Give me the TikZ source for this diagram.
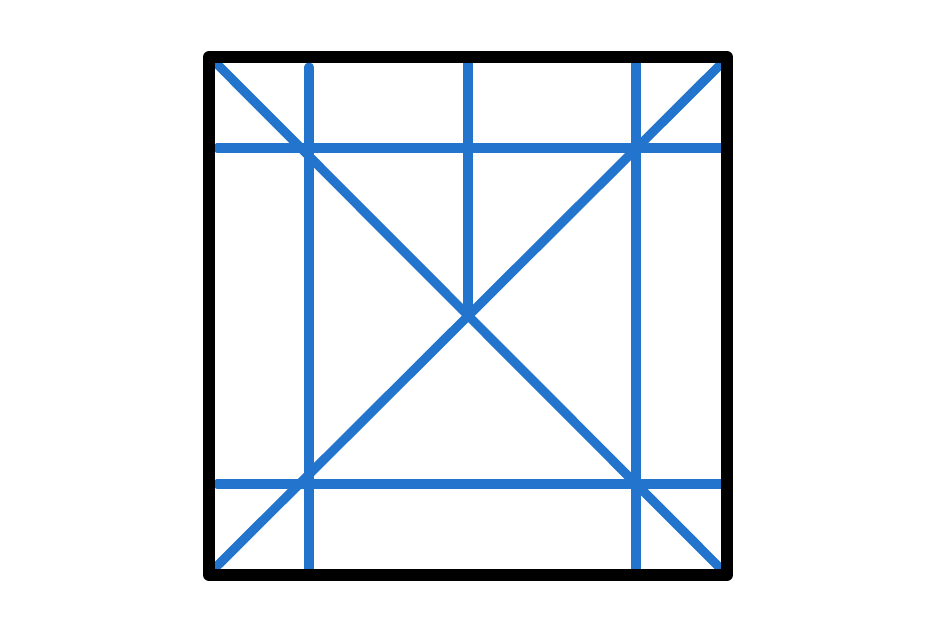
\documentclass[tikz,border=0pt]{standalone}
\usepackage{tikz}

\definecolor{lineblue}{RGB}{34,116,204}

\begin{document}
\begin{tikzpicture}
        \useasboundingbox (0,0) rectangle (9.38,6.25);
        % corners of the square
        \coordinate (sw) at (2.09,0.50);
        \coordinate (ne) at (7.27,5.68);
        \coordinate (c) at (4.68,3.09);
        % blue lines
        \begin{scope}[color=lineblue, line width=2.6pt, line cap=round]
        \draw (2.17,5.61) -- (7.23,0.54);
        \draw (2.14,0.56) -- (7.20,5.60);
        \draw (3.09,5.58) -- (3.09,0.53);
        \draw (6.36,5.64) -- (6.36,0.50);
        \draw (4.68,5.64) -- (c);
        \draw (2.17,4.77) -- (7.24,4.77);
        \draw (2.17,1.41) -- (7.24,1.41);
        \end{scope}
        % frame
        \draw[color=black, line width=3.4pt, line join=round] (sw) rectangle (ne);
    \end{tikzpicture}
\end{document}
